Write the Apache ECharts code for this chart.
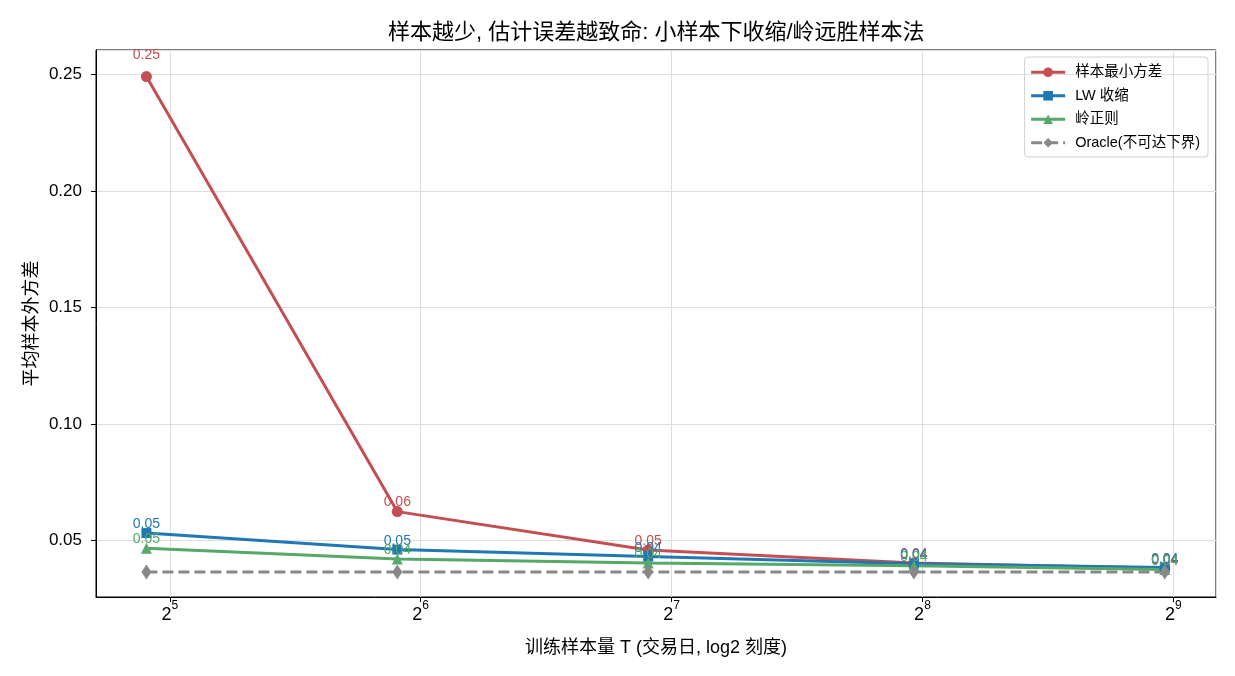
<!DOCTYPE html>
<html>
<head>
<meta charset="utf-8">
<script src="https://cdn.jsdelivr.net/npm/echarts@6/dist/echarts.min.js"></script>
<style>
  html, body { margin: 0; padding: 0; background: #fff; }
  #chart { width: 1235px; height: 676px; }
</style>
</head>
<body>
<div id="chart"></div>
<script>
// 训练样本量 T (交易日)
var sampleSizes = [30, 60, 120, 250, 500]
var seriesNames = ['样本最小方差', 'LW 收缩', '岭正则', 'Oracle(不可达下界)']
var sampleMinVar = [0.2492, 0.0625, 0.046, 0.0405, 0.0382]
var lwShrink = [0.0533, 0.0462, 0.0432, 0.0401, 0.0385]
var ridgeReg = [0.0468, 0.0422, 0.0405, 0.0393, 0.0377]
var oracle = [0.0366, 0.0366, 0.0366, 0.0366, 0.0366]

var FONT = '"Liberation Sans", Arial, "Noto Sans CJK SC", sans-serif'
var colors = ['#c44e52', '#1f77b4', '#55a868', '#888888']
var symbols = ['circle', 'rect', 'triangle', 'diamond']
var sizes = [11, 10, 11, [10, 15]]
var allValues = [sampleMinVar, lwShrink, ridgeReg, oracle]

function makeSeries (i, labelOffsets) {
    var ys = allValues[i]
    return {
        name: seriesNames[i],
        type: 'line',
        data: sampleSizes.map(function (x, j) {
            var item = { value: [x, ys[j]] }
            if (labelOffsets) item.label = { offset: [0, labelOffsets[j]] }
            return item
        }),
        symbol: symbols[i],
        symbolSize: sizes[i],
        color: colors[i],
        lineStyle: { width: 3, color: colors[i], type: i === 3 ? [11, 5] : 'solid' },
        itemStyle: { color: colors[i] },
        label: {
            show: i < 3,
            position: 'top',
            distance: 0,
            color: colors[i],
            fontSize: 14,
            fontFamily: FONT,
            formatter: function (p) { return p.value[1].toFixed(2) }
        },
        emphasis: { disabled: true },
        animation: false
    }
}

var chart = echarts.init(document.getElementById('chart'))
var option = {
    backgroundColor: '#fff',
    animation: false,
    title: {
        text: '样本越少, 估计误差越致命: 小样本下收缩/岭远胜样本法',
        left: 383,
        top: 17,
        textStyle: { fontSize: 22, fontWeight: 'normal', color: '#000', fontFamily: FONT }
    },
    legend: {
        orient: 'vertical',
        right: 27,
        top: 57,
        data: seriesNames,
        itemWidth: 34,
        itemHeight: 12,
        itemGap: 9,
        padding: [8, 8, 7, 5],
        borderColor: '#d0d0d0',
        borderWidth: 1,
        borderRadius: 3,
        lineStyle: { width: 3 },
        textStyle: { fontSize: 14.5, color: '#000', fontFamily: FONT, padding: [0, 0, 0, 5] }
    },
    grid: {
        left: 96,
        right: 19,
        top: 50,
        bottom: 79,
        show: true,
        borderColor: '#000',
        borderWidth: 1
    },
    xAxis: {
        type: 'log',
        logBase: 2,
        min: 26.1,
        max: 576,
        name: '训练样本量 T (交易日, log2 刻度)',
        nameLocation: 'middle',
        nameGap: 42,
        nameTextStyle: { fontSize: 18, color: '#000', fontFamily: FONT },
        axisLine: { show: true, lineStyle: { color: '#000', width: 1 } },
        axisTick: { show: true, length: 5, lineStyle: { color: '#000' } },
        splitLine: { show: true, lineStyle: { color: '#dedede', width: 1 } },
        axisLabel: {
            showMinLabel: false,
            showMaxLabel: false,
            margin: 3,
            formatter: function (v) {
                var l = Math.log2(v)
                var p = Math.round(l)
                if (Math.abs(l - p) > 1e-6) return ''
                return '{b|2}{s|' + p + '}'
            },
            rich: {
                b: { fontSize: 18, color: '#000', fontFamily: FONT, lineHeight: 24, verticalAlign: 'bottom' },
                s: { fontSize: 12, color: '#000', fontFamily: FONT, lineHeight: 24, verticalAlign: 'top', padding: [0, 0, 9, 0] }
            }
        }
    },
    yAxis: {
        type: 'value',
        min: 0.02586,
        max: 0.2606,
        splitNumber: 5,
        name: '平均样本外方差',
        nameLocation: 'middle',
        nameGap: 55,
        nameMoveOverlap: false,
        nameTextStyle: { fontSize: 18, color: '#000', fontFamily: FONT },
        axisLine: { show: true, lineStyle: { color: '#000', width: 1 } },
        axisTick: { show: true, length: 5, lineStyle: { color: '#000' } },
        splitLine: { show: true, lineStyle: { color: '#dedede', width: 1 } },
        axisLabel: {
            showMinLabel: false,
            showMaxLabel: false,
            fontSize: 17,
            color: '#000',
            fontFamily: FONT,
            margin: 14,
            formatter: function (v) {
                var r = Math.round(v * 100) / 100
                if (Math.abs(v - r) > 1e-9) return ''
                return r.toFixed(2)
            }
        }
    },
    series: [0, 1, 2, 3].map(function (i) { return makeSeries(i) })
}
chart.setOption(option)

// value labels sit just above y*1.027, as in the original annotation
var newSeries = [0, 1, 2, 3].map(function (i) {
    var half = (Array.isArray(sizes[i]) ? sizes[i][1] : sizes[i]) / 2
    var offs = sampleSizes.map(function (x, j) {
        var y = allValues[i][j]
        var py = chart.convertToPixel({ gridIndex: 0 }, [x, y])[1]
        var pt = chart.convertToPixel({ gridIndex: 0 }, [x, y * 1.027])[1]
        return pt - (py - half) + 1
    })
    return makeSeries(i, offs)
})
chart.setOption({ series: newSeries })
</script>
</body>
</html>
